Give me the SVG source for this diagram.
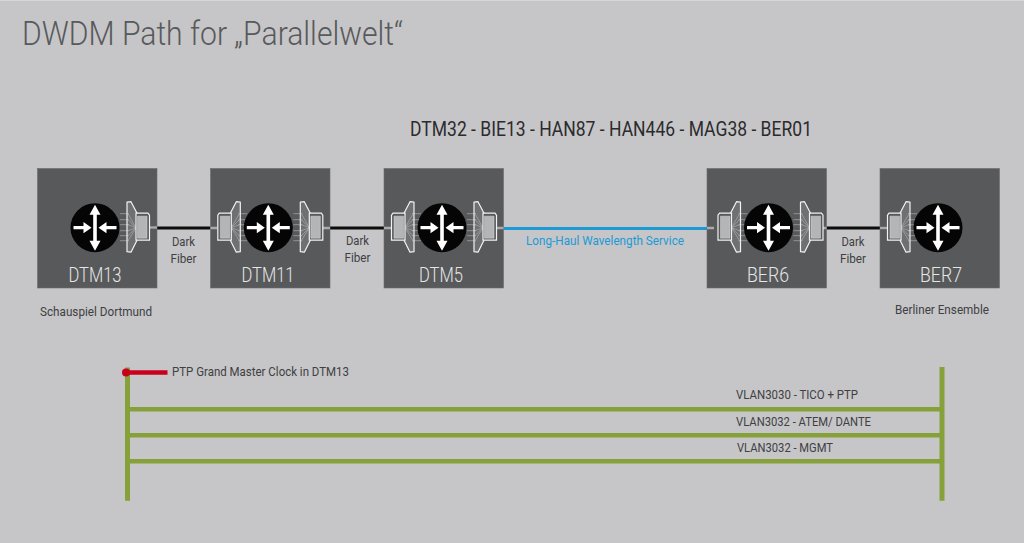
<svg xmlns="http://www.w3.org/2000/svg" width="1024" height="543" viewBox="0 0 1024 543">
<style>
text{font-family:"Roboto","Liberation Sans",sans-serif;}
.box{fill:#58595b;stroke:#6a6b6d;stroke-width:.6}
.nm{font-size:21px;fill:#e6e6e6;font-weight:300;text-anchor:middle}
.sm{font-size:13px;fill:#404042;font-weight:400}
.df{font-size:13px;fill:#404042;text-anchor:middle}
.blk{stroke:#0c0c0c;stroke-width:3;fill:none}
.grn{stroke:#86a03a;stroke-width:5;fill:none}
.ghz{stroke:#86a03a;stroke-width:4.6;fill:none}
.ar{fill:#fff}
.ray{stroke:#a9aaac;stroke-width:.7;fill:none}
.pan{fill:#fff;fill-opacity:.14;stroke:#f2f2f2;stroke-width:1.2;stroke-linejoin:round}
.bx{fill:#58595b;stroke:#f2f2f2;stroke-width:1.2}
.stub{stroke:#a9aaac;stroke-width:2.4}
</style>
<defs>
<g id="router">
<circle r="24.5" fill="#050505"/>
<path class="ar" d="M-1.8-8V-13H-5.5L0-23 5.5-13H1.8V13H5.5L0 23-5.5 13H-1.8Z"/>
<path class="ar" d="M-21.5-1.6H-11.5V-5.6L-3.5 0-11.5 5.6V1.6H-21.5Z"/>
<path class="ar" d="M21.5-1.6H11.5V-5.6L3.5 0 11.5 5.6V1.6H21.5Z"/>
</g>
<g id="xcvr">
<path class="ray" d="M25-14H34M25-8H34M25-3H34M25 3H34M25 8H34M25 13H34"/>
<path class="pan" d="M32-25.500L36-26 42-14.500V12.500L36 24.500 32 24Z"/>
<path class="ray" d="M33-14L41 0M33-8L41 0M33-3L41 0M33 3L41 0M33 8L41 0M33 13L41 0"/>
<path class="bx" d="M41-14.500L53-14.500 54.500-12.500V12.500H41Z"/>
<path d="M42.500-11.500H52V10.500H42.500Z" fill="#b4b5b6" stroke="#d8d8d8" stroke-width=".5"/>
</g>
</defs>
<rect width="1024" height="543" fill="#c6c6c8"/>
<rect width="1024" height="1" fill="#d6d6d7"/>
<text x="22" y="45" font-size="33" font-weight="300" fill="#58595b" textLength="381" lengthAdjust="spacingAndGlyphs">DWDM Path for „Parallelwelt“</text>
<text x="410" y="136" font-size="20" fill="#2b2b2d" textLength="402" lengthAdjust="spacingAndGlyphs">DTM32 - BIE13 - HAN87 - HAN446 - MAG38 - BER01</text>
<g id="connectors">
<path class="blk" d="M157 228H210.500M330 228H384M826 228H880"/>
<path d="M503 228.500H707" stroke="#1c9ad6" stroke-width="3" fill="none"/>
<path class="ghz" d="M127 409.300H942M127 435.300H942M127 461.200H942"/>
<path class="grn" d="M127.500 367.500V500.700M942 367V500.700"/>
<path d="M126 372.500H167.500" stroke="#c8001e" stroke-width="4.600" fill="none"/>
<circle cx="126" cy="372.500" r="4" fill="#c8001e"/>
</g>
<g id="DTM13"><rect class="box" x="37.500" y="168.500" width="119.500" height="119.500"/>
<path class="stub" d="M149 227.500H157"/><use href="#xcvr" x="95" y="227.700"/><use href="#router" x="95" y="227.700"/>
<text class="nm" x="95" y="282" textLength="53" lengthAdjust="spacingAndGlyphs">DTM13</text></g>
<g id="DTM11"><rect class="box" x="210.500" y="168.500" width="119.500" height="119.500"/>
<path class="stub" d="M210.500 228H217M323 228H330"/><use href="#xcvr" transform="translate(268.300 227.700) scale(-1 1) translate(-4 0)"/><use href="#xcvr" x="268.300" y="227.700"/><use href="#router" x="268.300" y="227.700"/>
<text class="nm" x="268" y="282" textLength="53" lengthAdjust="spacingAndGlyphs">DTM11</text></g>
<g id="DTM5"><rect class="box" x="384" y="168.500" width="119.500" height="119.500"/>
<path class="stub" d="M384 228H391M497 228H503.500"/><use href="#xcvr" transform="translate(442 227.700) scale(-1 1) translate(-4 0)"/><use href="#xcvr" x="442" y="227.700"/><use href="#router" x="442" y="227.700"/>
<text class="nm" x="441" y="282" textLength="44" lengthAdjust="spacingAndGlyphs">DTM5</text></g>
<g id="BER6"><rect class="box" x="707" y="168.500" width="119.500" height="119.500"/>
<path class="stub" d="M707 228H714M820 228H826.500"/><use href="#xcvr" transform="translate(768.500 227.700) scale(-1 1) translate(-4 0)"/><use href="#xcvr" x="768.500" y="227.700"/><use href="#router" x="768.500" y="227.700"/>
<text class="nm" x="768" y="282" textLength="42" lengthAdjust="spacingAndGlyphs">BER6</text></g>
<g id="BER7"><rect class="box" x="880" y="168.500" width="119.500" height="119.500"/>
<path class="stub" d="M880 228H887"/><use href="#xcvr" transform="translate(938 227.700) scale(-1 1) translate(-4 0)"/><use href="#router" x="938" y="227.700"/>
<text class="nm" x="941" y="282" textLength="42" lengthAdjust="spacingAndGlyphs">BER7</text></g>
<text class="df" x="183.500" y="246" textLength="23" lengthAdjust="spacingAndGlyphs">Dark</text><text class="df" x="183.500" y="263" textLength="26" lengthAdjust="spacingAndGlyphs">Fiber</text>
<text class="df" x="357.500" y="245" textLength="23" lengthAdjust="spacingAndGlyphs">Dark</text><text class="df" x="357.500" y="262" textLength="26" lengthAdjust="spacingAndGlyphs">Fiber</text>
<text class="df" x="853" y="246" textLength="23" lengthAdjust="spacingAndGlyphs">Dark</text><text class="df" x="853" y="263" textLength="26" lengthAdjust="spacingAndGlyphs">Fiber</text>
<text x="526" y="245" font-size="13" fill="#1c9ad6" textLength="158" lengthAdjust="spacingAndGlyphs">Long-Haul Wavelength Service</text>
<text class="sm" x="40" y="316" textLength="112" lengthAdjust="spacingAndGlyphs">Schauspiel Dortmund</text>
<text class="sm" x="895" y="314" textLength="94" lengthAdjust="spacingAndGlyphs">Berliner Ensemble</text>
<text class="sm" x="172" y="376" textLength="177" lengthAdjust="spacingAndGlyphs">PTP Grand Master Clock in DTM13</text>
<text class="sm" x="736" y="399" textLength="122" lengthAdjust="spacingAndGlyphs">VLAN3030 - TICO + PTP</text>
<text class="sm" x="736" y="426" textLength="135" lengthAdjust="spacingAndGlyphs">VLAN3032 - ATEM/ DANTE</text>
<text class="sm" x="737" y="452" textLength="96" lengthAdjust="spacingAndGlyphs">VLAN3032 - MGMT</text>
</svg>
